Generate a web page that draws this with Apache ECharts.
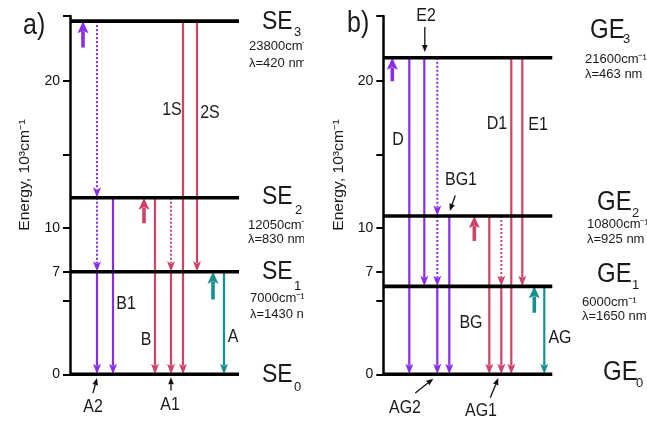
<!DOCTYPE html>
<html><head><meta charset="utf-8">
<script src="https://cdn.jsdelivr.net/npm/echarts@6/dist/echarts.min.js"></script>
<style>html,body{margin:0;padding:0;background:#fff}#c{width:647px;height:425px}</style>
</head><body><div id="c"></div>
<script>
// ---- Data (energies in 10^3 cm^-1, as drawn) ----
const levelNamesA = ['SE0', 'SE1', 'SE2', 'SE3'];
const levelsA = [0, 7.0, 12.05, 24.1];
const levelNamesB = ['GE0', 'GE1', 'GE2', 'GE3'];
const levelsB = [0, 6.0, 10.8, 21.6];
const yTickValues = [0, 5, 7, 10, 15, 20, 24.45];
const yLabelValues = [0, 7, 10, 20];

// transitions: [column, fromEnergy, toEnergy]
const purplePumpA = [[13, 22.3, 24.1]];
const purpleSolidA = [[27, 7.0, 0], [43, 12.05, 0]];
const purpleDottedA = [[27, 24.1, 12.05], [27, 12.05, 7.0]];
const redPumpA = [[74, 10.3, 12.05]];
const redSolidA = [[85, 12.05, 0], [101, 7.0, 0], [113, 24.1, 0], [127, 24.1, 7.0]];
const redDottedA = [[101, 12.05, 7.0]];
const tealPumpA = [[143, 5.1, 7.0]];
const tealSolidA = [[154, 7.0, 0]];

const purplePumpB = [[9, 20.0, 21.6]];
const purpleSolidB = [[26, 21.6, 0], [41, 21.6, 6.0], [54, 6.0, 0], [66, 10.8, 0]];
const purpleDottedB = [[54, 21.6, 10.8], [54, 10.8, 6.0]];
const redPumpB = [[91, 9.1, 10.8]];
const redSolidB = [[106, 10.8, 0], [118, 6.0, 0], [128, 21.6, 0], [139, 21.6, 6.0]];
const redDottedB = [[118, 10.8, 6.0]];
const tealPumpB = [[151, 4.2, 6.0]];
const tealSolidB = [[161, 6.0, 0]];

// pointer arrows for labels: [x1, y1, x2, y2]
const pointersA = [[23, -1.28, 27, -0.25], [101, -1.1, 101, -0.2]];
const pointersB = [[41.5, 23.7, 41.5, 22.0], [72, 12.2, 66.5, 11.15], [32, -1.28, 50, -0.3], [107, -1.6, 115, -0.25]];

// ---- Styling ----
const FONT = '"Liberation Sans", Arial, sans-serif';
const PURPLE = '#8a2cf0', RED = '#cf4368', TEAL = '#17908f';
const XMAX = 169, YMAX = 24.45;

const chart = echarts.init(document.getElementById('c'));

function gridAt(left) { return { left: left, top: 16, width: XMAX, height: 358.3 }; }
function xAx(gi) { return { gridIndex: gi, type: 'value', min: 0, max: XMAX, show: false }; }
function yAx(gi) {
  return {
    gridIndex: gi, type: 'value', min: 0, max: YMAX,
    axisLine: { show: true, lineStyle: { color: '#000', width: 2.5 } },
    axisTick: { show: true, length: 7, lineStyle: { color: '#000', width: 2 }, customValues: yTickValues },
    axisLabel: { customValues: yLabelValues, fontSize: 14, color: '#111', margin: 10, fontFamily: FONT },
    splitLine: { show: false }
  };
}

function levelSeries(gi, levels) {
  return {
    type: 'custom', xAxisIndex: gi, yAxisIndex: gi, z: 5, silent: true,
    data: levels.map(e => [0, e]),
    renderItem: function (params, api) {
      const e = api.value(1);
      const a = api.coord([0, e]), b = api.coord([XMAX, e]);
      return { type: 'line', shape: { x1: a[0], y1: a[1], x2: b[0], y2: b[1] }, style: { stroke: '#000', lineWidth: 3.6 } };
    }
  };
}

function arrowSeries(gi, data, color, kind) {
  return {
    type: 'custom', xAxisIndex: gi, yAxisIndex: gi, z: 3, silent: true,
    data: data,
    renderItem: function (params, api) {
      const x = api.value(0), f = api.value(1), t = api.value(2);
      const p1 = api.coord([x, f]), p2 = api.coord([x, t]);
      const dir = p2[1] > p1[1] ? 1 : -1;
      const pump = kind === 'pump';
      const hl = pump ? 12 : 10.5, hw = pump ? 5.5 : 4, lw = pump ? 3.6 : 2.2;
      const base = p2[1] - dir * hl;
      return {
        type: 'group', children: [
          { type: 'line', shape: { x1: p1[0], y1: p1[1], x2: p2[0], y2: base + dir * 2 },
            style: { stroke: color, lineWidth: kind === 'dotted' ? 2 : lw, lineDash: kind === 'dotted' ? [2, 2] : null } },
          { type: 'polygon', shape: { points: [[p2[0], p2[1]], [p2[0] - hw, base], [p2[0], base + dir * 2.5], [p2[0] + hw, base]] },
            style: { fill: color } }
        ]
      };
    }
  };
}

function pointerSeries(gi, data) {
  return {
    type: 'custom', xAxisIndex: gi, yAxisIndex: gi, z: 6, silent: true,
    data: data,
    renderItem: function (params, api) {
      const p1 = api.coord([api.value(0), api.value(1)]), p2 = api.coord([api.value(2), api.value(3)]);
      const dx = p2[0] - p1[0], dy = p2[1] - p1[1];
      const L = Math.sqrt(dx * dx + dy * dy), ux = dx / L, uy = dy / L;
      const hl = 7, hw = 2.8;
      const bx = p2[0] - ux * hl, by = p2[1] - uy * hl;
      return {
        type: 'group', children: [
          { type: 'line', shape: { x1: p1[0], y1: p1[1], x2: bx, y2: by }, style: { stroke: '#111', lineWidth: 1.3 } },
          { type: 'polygon', shape: { points: [[p2[0], p2[1]], [bx - uy * hw, by + ux * hw], [bx + uy * hw, by - ux * hw]] }, style: { fill: '#111' } }
        ]
      };
    }
  };
}

function txt(s, x, y, fs, opt) {
  opt = opt || {};
  return {
    type: 'text', x: x, y: y, z: 50, silent: true,
    scaleY: opt.sy || 1, scaleX: opt.sx || 1, rotation: opt.rot || 0,
    style: { text: s, fontSize: fs, fontFamily: FONT, fill: opt.color || '#1a1a1a',
      align: opt.align || 'left', verticalAlign: 'middle' }
  };
}

const BIG = 23, SUB = 13, SMALL = 13, LBL = 16, SY = 1.15;
const graphics = [
  txt('a)', 23, 26, 25, { sy: SY }),
  txt('b)', 347, 24, 25, { sy: SY }),
  txt('Energy, 10³cm⁻¹', 25, 175, 14, { rot: Math.PI / 2, align: 'center', sx: 1.12 }),
  txt('Energy, 10³cm⁻¹', 339, 175, 14, { rot: Math.PI / 2, align: 'center', sx: 1.12 }),
  // panel a level labels
  txt('SE', 262, 22, BIG, { sy: SY }), txt('3', 294, 32, SUB),
  txt('23800cm⁻¹', 249, 46, SMALL), txt('λ=420 nm', 249, 63, SMALL),
  txt('SE', 262, 197, BIG, { sy: SY }), txt('2', 295, 210, SUB),
  txt('12050cm⁻¹', 248, 225, SMALL), txt('λ=830 nm', 248, 239, SMALL),
  txt('SE', 262, 272, BIG, { sy: SY }), txt('1', 294, 286, SUB),
  txt('7000cm⁻¹', 250, 298, SMALL), txt('λ=1430 nm', 250, 314, SMALL),
  txt('SE', 262, 375, BIG, { sy: SY }), txt('0', 294, 387, SUB),
  // panel a transition labels
  txt('1S', 172, 110, LBL, { sy: SY, align: 'center' }),
  txt('2S', 210, 113, LBL, { sy: SY, align: 'center' }),
  txt('B1', 126, 304, LBL, { sy: SY, align: 'center' }),
  txt('B', 146, 340, LBL, { sy: SY, align: 'center' }),
  txt('A', 233, 337, LBL, { sy: SY, align: 'center' }),
  txt('A2', 93, 407, LBL, { sy: SY, align: 'center' }),
  txt('A1', 170, 405, LBL, { sy: SY, align: 'center' }),
  // clip of panel a right-hand texts
  { type: 'rect', z: 60, silent: true, shape: { x: 304, y: 36, width: 26, height: 290 }, style: { fill: '#fff' } },
  // panel b level labels
  txt('GE', 590, 30, 24, { sy: SY }), txt('3', 623, 39, SUB),
  txt('21600cm⁻¹', 585, 59, SMALL), txt('λ=463 nm', 585, 74, SMALL),
  txt('GE', 597, 202, 24, { sy: SY }), txt('2', 632, 213, SUB),
  txt('10800cm⁻¹', 587, 224, SMALL), txt('λ=925 nm', 587, 239, SMALL),
  txt('GE', 597, 274, 24, { sy: SY }), txt('1', 632, 285, SUB),
  txt('6000cm⁻¹', 582, 302, SMALL), txt('λ=1650 nm', 582, 316, SMALL),
  txt('GE', 603, 372, 24, { sy: SY }), txt('0', 636, 383, SUB),
  // panel b transition labels
  txt('E2', 426, 16, LBL, { sy: SY, align: 'center' }),
  txt('D', 398, 140, LBL, { sy: SY, align: 'center' }),
  txt('BG1', 461, 180, LBL, { sy: SY, align: 'center' }),
  txt('D1', 497, 124, LBL, { sy: SY, align: 'center' }),
  txt('E1', 538, 125, LBL, { sy: SY, align: 'center' }),
  txt('BG', 471, 323, LBL, { sy: SY, align: 'center' }),
  txt('AG', 560, 338, LBL, { sy: SY, align: 'center' }),
  txt('AG2', 405, 408, LBL, { sy: SY, align: 'center' }),
  txt('AG1', 481, 411, LBL, { sy: SY, align: 'center' })
];

chart.setOption({
  backgroundColor: '#fff',
  animation: false,
  grid: [gridAt(70), gridAt(383.3)],
  xAxis: [xAx(0), xAx(1)],
  yAxis: [yAx(0), yAx(1)],
  series: [
    arrowSeries(0, purplePumpA, PURPLE, 'pump'),
    arrowSeries(0, purpleSolidA, PURPLE, 'solid'),
    arrowSeries(0, purpleDottedA, PURPLE, 'dotted'),
    arrowSeries(0, redPumpA, RED, 'pump'),
    arrowSeries(0, redSolidA, RED, 'solid'),
    arrowSeries(0, redDottedA, RED, 'dotted'),
    arrowSeries(0, tealPumpA, TEAL, 'pump'),
    arrowSeries(0, tealSolidA, TEAL, 'solid'),
    levelSeries(0, levelsA),
    pointerSeries(0, pointersA),
    arrowSeries(1, purplePumpB, PURPLE, 'pump'),
    arrowSeries(1, purpleSolidB, PURPLE, 'solid'),
    arrowSeries(1, purpleDottedB, PURPLE, 'dotted'),
    arrowSeries(1, redPumpB, RED, 'pump'),
    arrowSeries(1, redSolidB, RED, 'solid'),
    arrowSeries(1, redDottedB, RED, 'dotted'),
    arrowSeries(1, tealPumpB, TEAL, 'pump'),
    arrowSeries(1, tealSolidB, TEAL, 'solid'),
    levelSeries(1, levelsB),
    pointerSeries(1, pointersB)
  ],
  graphic: graphics
});
</script>
</body></html>
